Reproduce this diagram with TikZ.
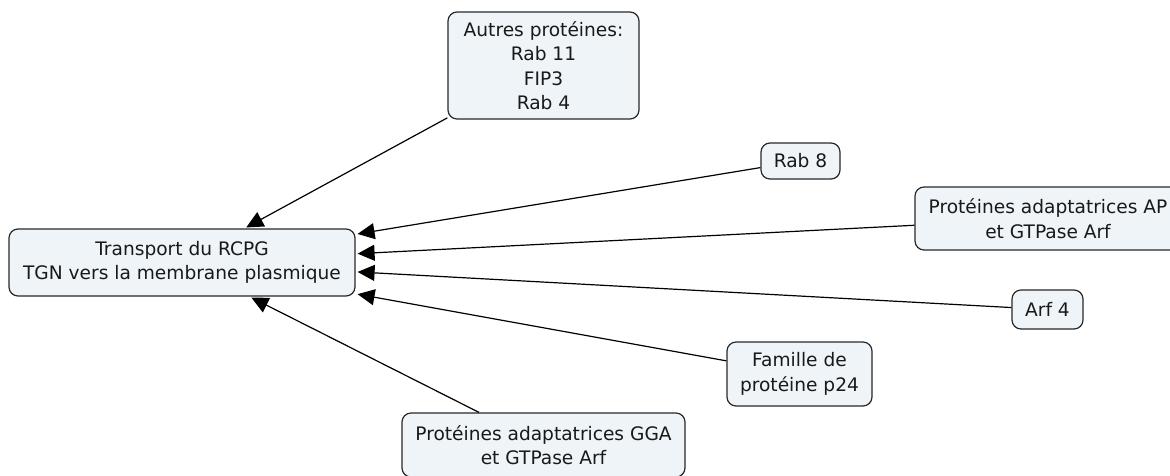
\documentclass[tikz,border=0pt]{standalone}
\usepackage{fontspec}
\setmainfont{DejaVu Sans}
\usetikzlibrary{arrows.meta}
\definecolor{boxfill}{RGB}{238,244,247}
\definecolor{boxline}{RGB}{40,40,40}
\tikzset{
  concept/.style={draw=boxline, line width=1.2pt, fill=boxfill, rounded corners=9pt,
    align=center, inner sep=0pt, font=\fontsize{18.6}{24.5}\selectfont, text=black!90},
  link/.style={line width=1.2pt, draw=black, shorten >=2pt,
    -{Triangle[length=17pt,width=16pt]}}
}
\begin{document}
\begin{tikzpicture}[x=1pt,y=-1pt]
\useasboundingbox (0,0) rectangle (1170,475);
\clip (0,0) rectangle (1170,475);
\node[concept, minimum width=346pt, minimum height=67pt] (central) at (182,262.5)
  {Transport du RCPG\\TGN vers la membrane plasmique};
\node[concept, minimum width=191pt, minimum height=107pt] (autres) at (543.5,65.5)
  {Autres protéines:\\Rab 11\\FIP3\\Rab 4};
\node[concept, minimum width=79pt, minimum height=36pt] (rab8) at (800.5,161) {Rab 8};
\node[concept, minimum width=266pt, minimum height=63pt] (ap) at (1048,218.5)
  {Protéines adaptatrices AP\\et GTPase Arf};
\node[concept, minimum width=71pt, minimum height=39pt] (arf4) at (1047.5,309.5) {Arf 4};
\node[concept, minimum width=145pt, minimum height=64pt] (famille) at (799.5,374)
  {Famille de\\protéine p24};
\node[concept, minimum width=283pt, minimum height=64pt] (gga) at (543.5,445)
  {Protéines adaptatrices GGA\\et GTPase Arf};
\draw[link] (autres) -- (central);
\draw[link] (rab8) -- (central);
\draw[link] (ap) -- (central);
\draw[link] (arf4) -- (central);
\draw[link] (famille) -- (central);
\draw[link] (gga) -- (central);
\end{tikzpicture}
\end{document}
